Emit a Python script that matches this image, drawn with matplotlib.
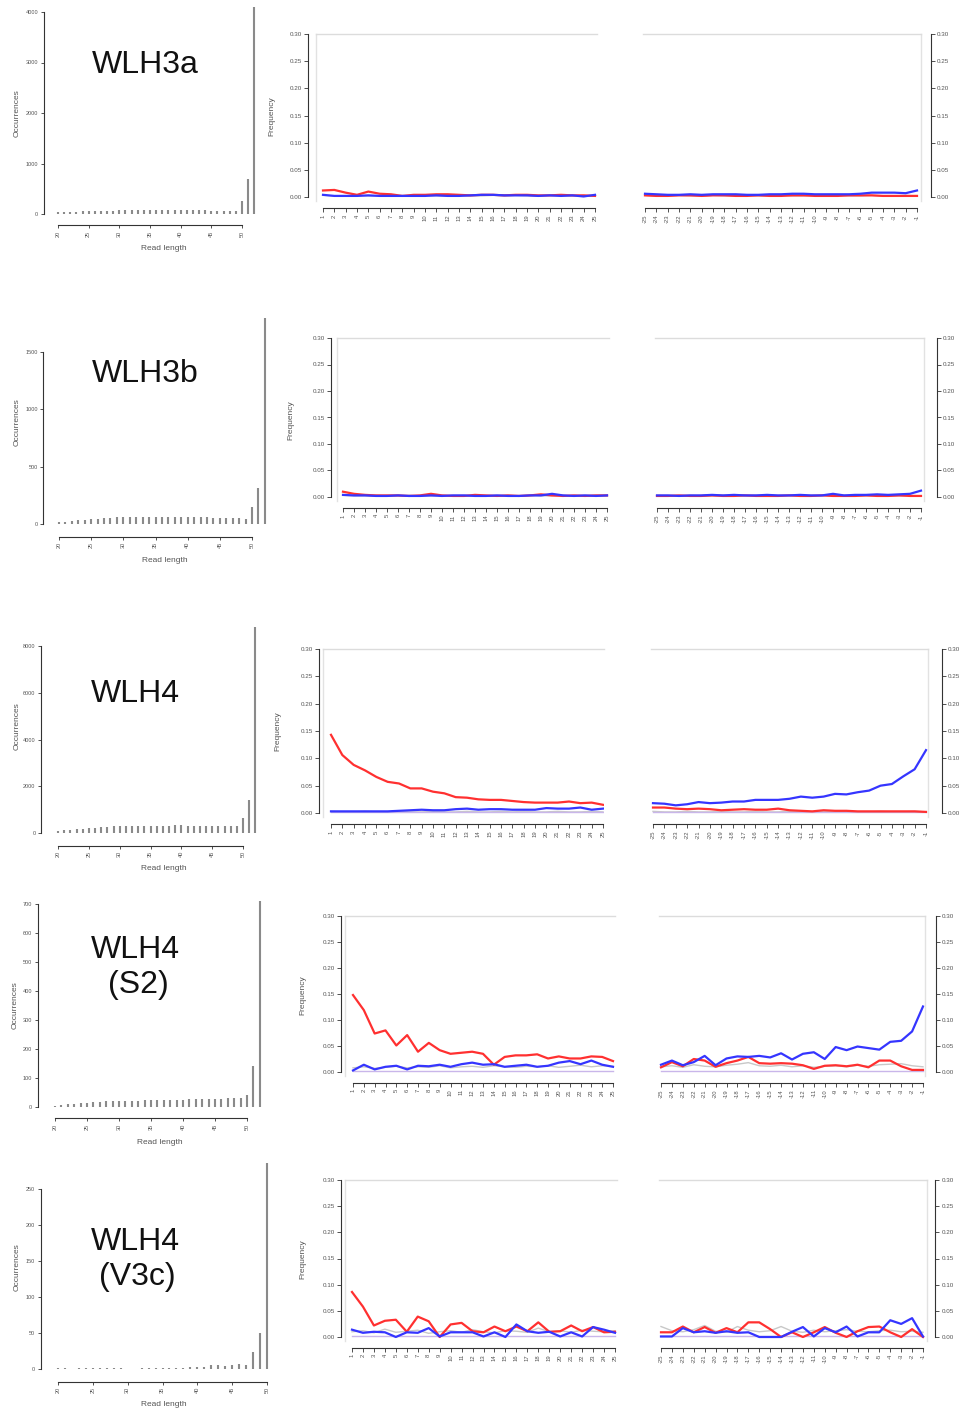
"""
Read length distributions and misincorporation patterns for five libraries
"""
import matplotlib
matplotlib.use('Agg')
import matplotlib.pyplot as plt

plt.rcParams['font.family'] = ['Liberation Sans', 'DejaVu Sans']

# ---- data -------------------------------------------------------------
sample_names = ['WLH3a', 'WLH3b', 'WLH4', 'WLH4\n(S2)', 'WLH4\n(V3c)']

len_ticks = [20, 25, 30, 35, 40, 45, 50]
lengths_52 = list(range(20, 53))
lengths_50 = list(range(20, 51))

wlh3a_counts = [30, 35, 40, 45, 50, 55, 60, 62, 65, 68, 70, 72, 75, 75, 78, 80, 80,
                78, 80, 78, 76, 75, 72, 70, 70, 68, 65, 62, 60, 65, 260, 700, 4100]
wlh3b_counts = [15, 20, 28, 35, 38, 40, 45, 52, 55, 58, 60, 62, 65, 65, 65, 62, 65,
                62, 60, 60, 60, 58, 58, 58, 55, 55, 52, 50, 48, 45, 150, 310, 1800]
wlh4_counts = [80, 110, 140, 170, 190, 210, 230, 250, 260, 280, 290, 300, 300, 310,
               310, 310, 320, 320, 320, 330, 330, 320, 320, 310, 310, 300, 300, 300,
               300, 310, 650, 1400, 8800]
s2_counts = [5, 8, 10, 12, 14, 15, 16, 18, 20, 20, 21, 22, 22, 22, 23, 23, 24, 24,
             24, 25, 25, 26, 26, 27, 27, 28, 28, 30, 30, 32, 40, 140, 710]
v3c_counts = [1, 1, 0, 1, 1, 2, 1, 2, 2, 1, 0, 0, 2, 1, 2, 2, 2, 2, 2, 3, 3, 3, 5,
              6, 4, 6, 7, 6, 24, 50, 286]
hist_ytop = [4000, 1500, 8000, 700, 250]
hist_ystep = [1000, 500, 2000, 100, 50]

pos_5p = list(range(1, 26))
pos_3p = list(range(-25, 0))
freq_ticks = [0.00, 0.05, 0.10, 0.15, 0.20, 0.25, 0.30]

# C->T (red) and G->A (blue), 5' end then 3' end
wlh3a_ct_5p = [0.012, 0.013, 0.008, 0.004, 0.010, 0.006, 0.005, 0.002, 0.004, 0.004, 0.005, 0.005, 0.004,
               0.003, 0.004, 0.004, 0.003, 0.004, 0.004, 0.003, 0.003, 0.004, 0.003, 0.003, 0.002]
wlh3a_ga_5p = [0.004, 0.002, 0.002, 0.002, 0.003, 0.002, 0.002, 0.002, 0.002, 0.002, 0.003, 0.002, 0.002,
               0.003, 0.004, 0.004, 0.003, 0.003, 0.003, 0.002, 0.003, 0.002, 0.003, 0.001, 0.004]
wlh3a_ct_3p = [0.003, 0.002, 0.002, 0.003, 0.003, 0.002, 0.003, 0.003, 0.002, 0.002, 0.003, 0.002, 0.002,
               0.003, 0.003, 0.002, 0.002, 0.002, 0.003, 0.003, 0.003, 0.002, 0.002, 0.002, 0.002]
wlh3a_ga_3p = [0.006, 0.005, 0.004, 0.004, 0.005, 0.004, 0.005, 0.005, 0.005, 0.004, 0.004, 0.005, 0.005,
               0.006, 0.006, 0.005, 0.005, 0.005, 0.005, 0.006, 0.008, 0.008, 0.008, 0.007, 0.012]

wlh3b_ct_5p = [0.010, 0.006, 0.004, 0.003, 0.003, 0.003, 0.002, 0.003, 0.006, 0.003, 0.002, 0.002, 0.004,
               0.003, 0.002, 0.003, 0.002, 0.003, 0.005, 0.003, 0.002, 0.003, 0.002, 0.003, 0.003]
wlh3b_ga_5p = [0.004, 0.003, 0.003, 0.002, 0.002, 0.003, 0.002, 0.002, 0.003, 0.002, 0.003, 0.003, 0.002,
               0.002, 0.003, 0.002, 0.002, 0.003, 0.003, 0.006, 0.003, 0.002, 0.003, 0.002, 0.003]
wlh3b_ct_3p = [0.002, 0.002, 0.003, 0.002, 0.002, 0.003, 0.002, 0.002, 0.003, 0.002, 0.002, 0.002, 0.003,
               0.002, 0.002, 0.003, 0.002, 0.002, 0.002, 0.003, 0.002, 0.002, 0.003, 0.002, 0.002]
wlh3b_ga_3p = [0.003, 0.003, 0.002, 0.003, 0.003, 0.004, 0.003, 0.004, 0.003, 0.003, 0.004, 0.003, 0.003,
               0.004, 0.003, 0.003, 0.006, 0.003, 0.004, 0.004, 0.005, 0.004, 0.005, 0.006, 0.012]

wlh4_ct_5p = [0.143, 0.106, 0.088, 0.078, 0.066, 0.057, 0.054, 0.045, 0.045, 0.039, 0.036, 0.029, 0.028,
              0.025, 0.024, 0.024, 0.022, 0.020, 0.019, 0.019, 0.019, 0.021, 0.018, 0.019, 0.015]
wlh4_ga_5p = [0.003, 0.003, 0.003, 0.003, 0.003, 0.003, 0.004, 0.005, 0.006, 0.005, 0.005, 0.007, 0.008,
              0.006, 0.007, 0.007, 0.006, 0.006, 0.006, 0.009, 0.008, 0.008, 0.010, 0.006, 0.008]
wlh4_ct_3p = [0.010, 0.010, 0.008, 0.007, 0.008, 0.007, 0.005, 0.006, 0.007, 0.006, 0.006, 0.008, 0.005,
              0.004, 0.003, 0.005, 0.004, 0.004, 0.003, 0.003, 0.003, 0.003, 0.003, 0.003, 0.002]
wlh4_ga_3p = [0.018, 0.017, 0.014, 0.016, 0.020, 0.018, 0.019, 0.021, 0.021, 0.024, 0.024, 0.024, 0.026,
              0.030, 0.028, 0.030, 0.035, 0.034, 0.038, 0.041, 0.050, 0.053, 0.067, 0.080, 0.115]

s2_ct_5p = [0.148, 0.119, 0.074, 0.080, 0.051, 0.071, 0.039, 0.056, 0.042, 0.035, 0.037, 0.039, 0.035,
            0.014, 0.029, 0.032, 0.032, 0.034, 0.026, 0.030, 0.026, 0.026, 0.030, 0.029, 0.021]
s2_ga_5p = [0.003, 0.014, 0.005, 0.010, 0.012, 0.005, 0.012, 0.011, 0.014, 0.010, 0.015, 0.018, 0.014,
            0.015, 0.010, 0.012, 0.014, 0.010, 0.012, 0.018, 0.021, 0.015, 0.022, 0.014, 0.010]
s2_ct_3p = [0.009, 0.019, 0.011, 0.025, 0.022, 0.010, 0.017, 0.022, 0.029, 0.017, 0.016, 0.017, 0.016,
            0.013, 0.006, 0.012, 0.013, 0.011, 0.014, 0.009, 0.022, 0.022, 0.011, 0.004, 0.004]
s2_ga_3p = [0.014, 0.022, 0.013, 0.019, 0.031, 0.013, 0.026, 0.030, 0.029, 0.031, 0.028, 0.036, 0.024,
            0.035, 0.038, 0.025, 0.048, 0.042, 0.049, 0.046, 0.043, 0.058, 0.060, 0.078, 0.126]

v3c_ct_5p = [0.086, 0.058, 0.022, 0.031, 0.033, 0.010, 0.039, 0.030, 0.000, 0.024, 0.027, 0.011, 0.009,
             0.020, 0.011, 0.020, 0.011, 0.028, 0.010, 0.011, 0.022, 0.011, 0.019, 0.009, 0.010]
v3c_ga_5p = [0.014, 0.008, 0.010, 0.009, 0.000, 0.009, 0.008, 0.017, 0.001, 0.009, 0.009, 0.009, 0.001,
             0.009, 0.000, 0.024, 0.011, 0.008, 0.010, 0.001, 0.009, 0.001, 0.019, 0.014, 0.008]
v3c_ct_3p = [0.009, 0.009, 0.020, 0.009, 0.019, 0.008, 0.017, 0.009, 0.028, 0.028, 0.015, 0.000, 0.009,
             0.000, 0.009, 0.019, 0.008, 0.000, 0.011, 0.019, 0.020, 0.009, 0.000, 0.015, 0.000]
v3c_ga_3p = [0.001, 0.001, 0.017, 0.009, 0.011, 0.008, 0.011, 0.008, 0.009, 0.000, 0.000, 0.000, 0.010,
             0.019, 0.001, 0.017, 0.009, 0.020, 0.001, 0.009, 0.009, 0.032, 0.025, 0.036, 0.001]

# other substitutions (grey)
other_low = [0.003, 0.002, 0.002, 0.003, 0.002, 0.002, 0.003, 0.002, 0.002, 0.003, 0.002, 0.002, 0.003,
             0.002, 0.002, 0.003, 0.002, 0.003, 0.002, 0.002, 0.003, 0.002, 0.002, 0.003, 0.002]
s2_other_5p = [0.008, 0.010, 0.007, 0.009, 0.011, 0.008, 0.010, 0.009, 0.012, 0.008, 0.010, 0.011, 0.009,
               0.012, 0.010, 0.009, 0.011, 0.010, 0.012, 0.009, 0.011, 0.013, 0.010, 0.012, 0.011]
s2_other_3p = [0.010, 0.012, 0.009, 0.014, 0.011, 0.010, 0.013, 0.015, 0.018, 0.012, 0.011, 0.013, 0.010,
               0.012, 0.009, 0.011, 0.012, 0.010, 0.013, 0.011, 0.014, 0.015, 0.016, 0.012, 0.010]
v3c_other_5p = [0.010, 0.012, 0.008, 0.015, 0.009, 0.011, 0.013, 0.007, 0.010, 0.012, 0.009, 0.014, 0.010,
                0.008, 0.012, 0.011, 0.009, 0.017, 0.010, 0.012, 0.009, 0.013, 0.011, 0.010, 0.012]
v3c_other_3p = [0.020, 0.012, 0.010, 0.014, 0.022, 0.011, 0.009, 0.020, 0.013, 0.010, 0.012, 0.020, 0.011,
                0.009, 0.013, 0.010, 0.012, 0.014, 0.011, 0.010, 0.012, 0.013, 0.010, 0.011, 0.009]
# insertions (lavender), close to zero
indel_freq = [0.001, 0.001, 0.001, 0.001, 0.001, 0.001, 0.001, 0.001, 0.001, 0.001, 0.001, 0.001, 0.001,
              0.001, 0.001, 0.001, 0.001, 0.001, 0.001, 0.001, 0.001, 0.001, 0.001, 0.001, 0.001]

hist_data = [(lengths_52, wlh3a_counts), (lengths_52, wlh3b_counts), (lengths_52, wlh4_counts),
             (lengths_52, s2_counts), (lengths_50, v3c_counts)]
freq_data = [
    (wlh3a_ct_5p, wlh3a_ga_5p, other_low, wlh3a_ct_3p, wlh3a_ga_3p, other_low, False),
    (wlh3b_ct_5p, wlh3b_ga_5p, other_low, wlh3b_ct_3p, wlh3b_ga_3p, other_low, False),
    (wlh4_ct_5p, wlh4_ga_5p, other_low, wlh4_ct_3p, wlh4_ga_3p, other_low, True),
    (s2_ct_5p, s2_ga_5p, s2_other_5p, s2_ct_3p, s2_ga_3p, s2_other_3p, True),
    (v3c_ct_5p, v3c_ga_5p, v3c_other_5p, v3c_ct_3p, v3c_ga_3p, v3c_other_3p, True),
]

# ---- layout (pixels) --------------------------------------------------
W, H = 968, 1412
# tick x px for 20 and 50, y px for 0 and top tick, y-axis x, x-axis y
hist_layout = [(58, 242, 214, 12, 50, 222), (59, 252, 524, 352, 50, 533),
               (58, 243, 833, 646, 48, 842), (55, 247, 1107, 904, 45, 1115),
               (58, 267, 1369, 1189, 48, 1378)]
hist_labels = [(164, 248, 17, 113), (165, 561, 17, 422), (164, 869, 17, 726),
               (160, 1143, 15, 1005), (164, 1405, 17, 1267)]
# L: p1, p25, box_l, box_r, axis_x ; R: same ; y0, y30, xaxis_y
freq_layout = [
    (323, 595, 316, 597, 310, 645, 917, 643, 921, 928, 197, 34, 206),
    (343, 607, 337, 609, 333, 657, 921, 655, 924, 933, 497, 338, 506),
    (331, 603, 323, 604, 320, 653, 926, 651, 928, 938, 813, 649, 822),
    (353, 613, 345, 615, 342, 661, 923, 659, 925, 933, 1072, 916, 1081),
    (352, 615, 345, 617, 342, 661, 923, 659, 927, 933, 1337, 1180, 1346),
]
freq_ylabel = [(272, 116), (291, 420), (278, 731), (303, 995), (303, 1259)]
title_pos = [[(145, 73, 'WLH3a')], [(145, 382, 'WLH3b')], [(135, 702, 'WLH4')],
             [(135, 958, 'WLH4'), (138, 993, '(S2)')],
             [(135, 1250, 'WLH4'), (137, 1285, '(V3c)')]]

RED = '#ff3030'
BLUE = '#3535ff'
GREY = '#c8c8c8'
LAV = '#c9b6ea'
AXC = '#333333'

fig = plt.figure(figsize=(W / 100, H / 100), dpi=100)


def axes_px(xlim, ylim, xa, xb, pxa, pxb, ya, yb, pya, pyb):
    sx = (pxb - pxa) / (xb - xa)
    sy = (pyb - pya) / (yb - ya)
    left = pxa + (xlim[0] - xa) * sx
    right = pxa + (xlim[1] - xa) * sx
    bottom = pya + (ylim[0] - ya) * sy
    top = pya + (ylim[1] - ya) * sy
    ax = fig.add_axes([left / W, 1 - bottom / H, (right - left) / W, (bottom - top) / H])
    ax.set_xlim(xlim)
    ax.set_ylim(ylim)
    ax.patch.set_alpha(0)
    return ax


def style_spine(sp):
    sp.set_color(AXC)
    sp.set_linewidth(0.8)


for r in range(5):
    # histogram of read lengths
    lens, counts = hist_data[r]
    tx0, tx1, py0, pytop, yax, xax = hist_layout[r]
    ymax = max(counts)
    ax = axes_px((19.5, max(lens) + 0.5), (0, ymax), 20, 50, tx0, tx1,
                 0, hist_ytop[r], py0, pytop)
    ax.vlines(lens, 0, counts, color='#8a8a8a', linewidth=1.5)
    for s in ['top', 'right']:
        ax.spines[s].set_visible(False)
    ax.spines['left'].set_position(('outward', tx0 - yax))
    ax.spines['bottom'].set_position(('outward', xax - py0))
    ax.spines['left'].set_bounds(0, hist_ytop[r])
    ax.spines['bottom'].set_bounds(20, 50)
    style_spine(ax.spines['left'])
    style_spine(ax.spines['bottom'])
    ax.set_yticks(list(range(0, hist_ytop[r] + 1, hist_ystep[r])))
    ax.set_xticks(len_ticks)
    ax.tick_params(axis='both', length=2.5, width=0.6, color=AXC, labelsize=4,
                   labelcolor='#555555', pad=1.5)
    ax.tick_params(axis='x', labelrotation=90)
    lx, ly, ox, oy = hist_labels[r]
    fig.text(lx / W, 1 - ly / H, 'Read length', ha='center', va='center',
             fontsize=6, color='#555555')
    fig.text(ox / W, 1 - oy / H, 'Occurrences', ha='center', va='center',
             rotation=90, fontsize=6, color='#555555')
    for tx, ty, txt in title_pos[r]:
        fig.text(tx / W, 1 - ty / H, txt, ha='center', va='baseline', fontsize=23,
                 color='#111111')

    # misincorporation panels
    (lp1, lp25, lbl, lbr, lax, rp1, rp25, rbl, rbr, rax, y0, y30, xay) = freq_layout[r]
    ct5, ga5, ot5, ct3, ga3, ot3, show_indel = freq_data[r]
    ylim = (-0.008, 0.30)
    for side in ['L', 'R']:
        if side == 'L':
            p1, p25, bl, br, axx = lp1, lp25, lbl, lbr, lax
            xs, ct, ga, ot = pos_5p, ct5, ga5, ot5
        else:
            p1, p25, bl, br, axx = rp1, rp25, rbl, rbr, rax
            xs, ct, ga, ot = pos_3p, ct3, ga3, ot3
        sx = (p25 - p1) / 24.0
        xlim = (xs[0] + (bl - p1) / sx, xs[-1] + (br - p25) / sx)
        fax = axes_px(xlim, ylim, xs[0], xs[-1], p1, p25, 0.0, 0.30, y0, y30)
        fax.plot(xs, ot, color=GREY, linewidth=1.0)
        if show_indel:
            fax.plot(xs, indel_freq, color=LAV, linewidth=1.0)
        fax.plot(xs, ct, color=RED, linewidth=1.6)
        fax.plot(xs, ga, color=BLUE, linewidth=1.6)
        # light frame: top and outer side
        fax.spines['top'].set_color('#dcdcdc')
        fax.spines['top'].set_linewidth(1.0)
        fax.spines['top'].set_bounds(xlim[0], xlim[1])
        fax.spines['bottom'].set_position(('outward', xay - y0 - 4))
        fax.spines['bottom'].set_bounds(xs[0], xs[-1])
        style_spine(fax.spines['bottom'])
        fax.set_xticks(xs)
        fax.set_xticklabels([str(v) for v in xs])
        fax.set_yticks(freq_ticks)
        fax.set_yticklabels(['%.2f' % v for v in freq_ticks])
        if side == 'L':
            fax.spines['right'].set_visible(False)
            fax.spines['left'].set_position(('outward', bl - axx))
            fax.spines['left'].set_bounds(0, 0.30)
            style_spine(fax.spines['left'])
            fax.plot([0, 0], [0, 1], transform=fax.transAxes, color='#e2e2e2',
                     linewidth=1.0, clip_on=False)
        else:
            fax.spines['left'].set_visible(False)
            fax.spines['right'].set_position(('outward', axx - br))
            fax.spines['right'].set_bounds(0, 0.30)
            style_spine(fax.spines['right'])
            fax.yaxis.tick_right()
            fax.plot([1, 1], [0, 1], transform=fax.transAxes, color='#e2e2e2',
                     linewidth=1.0, clip_on=False)
        fax.tick_params(axis='both', length=2.8, width=0.6, color=AXC, labelsize=4.5,
                        labelcolor='#555555', pad=1.5)
        fax.tick_params(axis='x', labelrotation=90, labelsize=4.2)
    fx, fy = freq_ylabel[r]
    fig.text(fx / W, 1 - fy / H, 'Frequency', ha='center', va='center', rotation=90,
             fontsize=6, color='#555555')

fig.savefig('out.png', dpi=100)
plt.close(fig)
